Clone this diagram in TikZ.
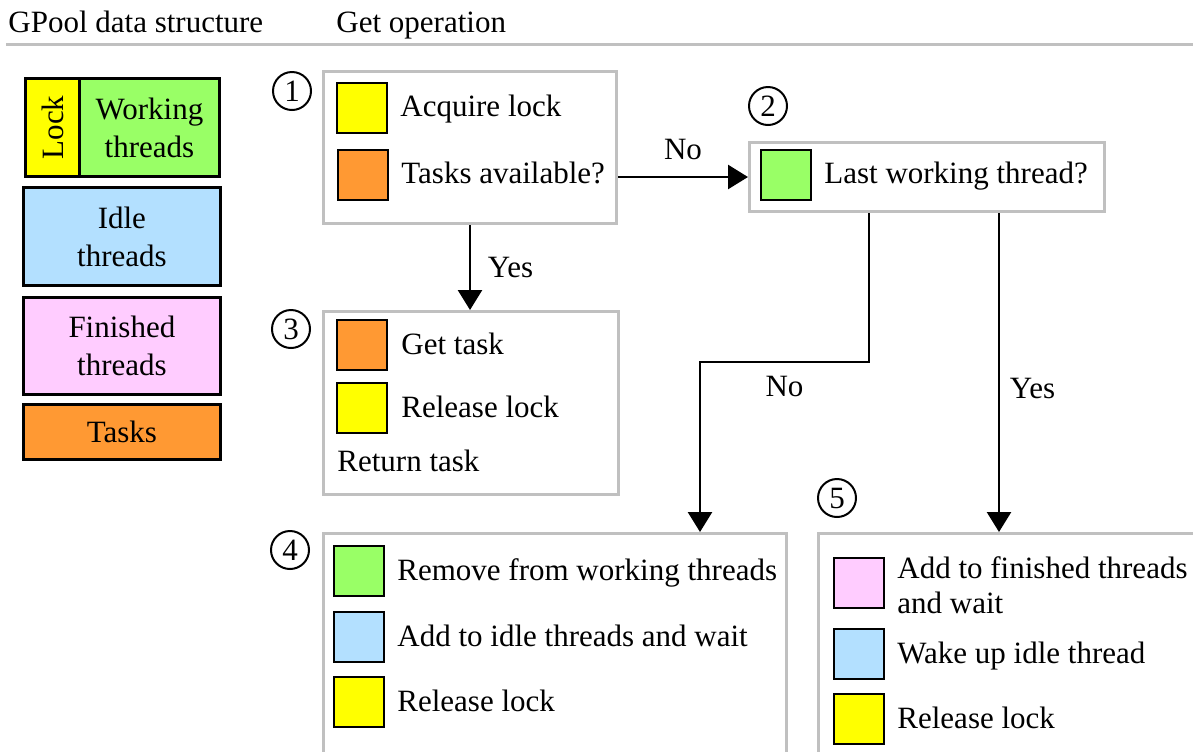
\documentclass[tikz,border=0pt]{standalone}
\usepackage{fontspec}
\setmainfont{Liberation Serif}
\usetikzlibrary{arrows.meta}
\definecolor{lockyellow}{RGB}{255,255,0}
\definecolor{workgreen}{RGB}{153,255,102}
\definecolor{idleblue}{RGB}{179,224,255}
\definecolor{finpink}{RGB}{255,204,255}
\definecolor{taskorange}{RGB}{255,153,51}
\definecolor{framegray}{RGB}{192,192,192}

\begin{document}
\begin{tikzpicture}[x=0.5pt, y=-0.5pt,
        font=\fontsize{15.5}{19}\selectfont,
        legend/.style={draw, line width=1.4pt, align=center, anchor=north west, inner sep=0pt},
        stepbox/.style={draw=framegray, line width=1.5pt, anchor=north west, inner sep=0pt},
        swatch/.style={draw, line width=1.4pt, minimum size=25pt, inner sep=0pt},
        txt/.style={anchor=mid west, inner sep=0pt, yshift=-2.2pt},
        num/.style={circle, draw, line width=1pt, minimum size=19pt, inner sep=0pt},
        flow/.style={-{Triangle[width=12pt,length=10pt]}, line width=1.3pt}]
    \useasboundingbox (0,0) rectangle (1193,751);
    \clip (0,0) rectangle (1193,751);

    \node[anchor=base west, inner sep=0pt] (hdata) at (8,32) {GPool data structure};
    \node[anchor=base west, inner sep=0pt] (hget) at (336,32) {Get operation};
    \draw[framegray, line width=1.5pt] (6,44) -- (1193,44);

    \node[legend, fill=lockyellow, minimum width=27pt, minimum height=49pt] (lock) at (24,77) {};
    \node[rotate=90, inner sep=0pt] (locktxt) at (lock) {Lock};
    \node[legend, fill=workgreen, minimum width=70pt, minimum height=49pt] (work) at (78,77) {Working\\threads};
    \node[legend, fill=idleblue, minimum width=98.5pt, minimum height=49pt] (idle) at (22,186) {Idle\\threads};
    \node[legend, fill=finpink, minimum width=98.5pt, minimum height=48.5pt] (fin) at (22,296) {Finished\\threads};
    \node[legend, fill=taskorange, minimum width=98.5pt, minimum height=27.5pt] (tasks) at (22,403) {Tasks};

    \node[stepbox, minimum width=146.5pt, minimum height=76pt] (b1) at (322,70) {};
    \node[stepbox, minimum width=177.5pt, minimum height=34.5pt] (b2) at (748,141) {};
    \node[stepbox, minimum width=147.5pt, minimum height=91.5pt] (b3) at (322,310) {};
    \node[stepbox, minimum width=231.5pt, minimum height=134pt] (b4) at (322,532) {};
    \node[stepbox, minimum width=211.5pt, minimum height=134pt] (b5) at (817,532) {};

    \node[num] (n1) at (292,91) {1};
    \node[num] (n2) at (768,106) {2};
    \node[num] (n3) at (291,329) {3};
    \node[num] (n4) at (290,550) {4};
    \node[num] (n5) at (837,498) {5};

    \node[swatch, fill=lockyellow] (s1a) at (362,108) {};
    \node[txt] (t1a) at (400,108) {Acquire lock};
    \node[swatch, fill=taskorange] (s1b) at (363,175) {};
    \node[txt] (t1b) at (401,175) {Tasks available?};

    \node[swatch, fill=workgreen] (s2) at (786,175) {};
    \node[txt] (t2) at (824,175) {Last working thread?};

    \node[swatch, fill=taskorange] (s3a) at (362,345) {};
    \node[txt] (t3a) at (401,345) {Get task};
    \node[swatch, fill=lockyellow] (s3b) at (362,408) {};
    \node[txt] (t3b) at (401,408) {Release lock};
    \node[txt] (t3c) at (337,462) {Return task};

    \node[swatch, fill=workgreen] (s4a) at (359,571) {};
    \node[txt] (t4a) at (397,571) {Remove from working threads};
    \node[swatch, fill=idleblue] (s4b) at (359,637) {};
    \node[txt] (t4b) at (397,637) {Add to idle threads and wait};
    \node[swatch, fill=lockyellow] (s4c) at (359,702) {};
    \node[txt] (t4c) at (397,702) {Release lock};

    \node[swatch, fill=finpink] (s5a) at (859,583) {};
    \node[anchor=base west, inner sep=0pt, align=left, font=\fontsize{15.5}{17.5}\selectfont] (t5a) at (897,613) {Add to finished threads\\and wait};
    \node[swatch, fill=idleblue] (s5b) at (859,654) {};
    \node[txt] (t5b) at (897,654) {Wake up idle thread};
    \node[swatch, fill=lockyellow] (s5c) at (859,719) {};
    \node[txt] (t5c) at (897,719) {Release lock};

    \coordinate (k1) at (869,362);
    \coordinate (k2) at (700,362);
    \coordinate (k3) at (999,362);

    \draw[flow] (b1.east |- b2.west) -- (b2.west) node[midway, above=4.5pt] {No};
    \draw[flow] (b1.south) -- (b1.south |- b3.north) node[midway, right=5pt] {Yes};
    \draw[flow] (b2.south -| k1) -- (k1) -- (k2) node[midway, below=3pt] {No} -- (k2 |- b4.north);
    \draw[flow] (b2.south -| k3) -- (k3 |- b5.north) node[pos=0.55, right=1.5pt] {Yes};
\end{tikzpicture}
\end{document}
